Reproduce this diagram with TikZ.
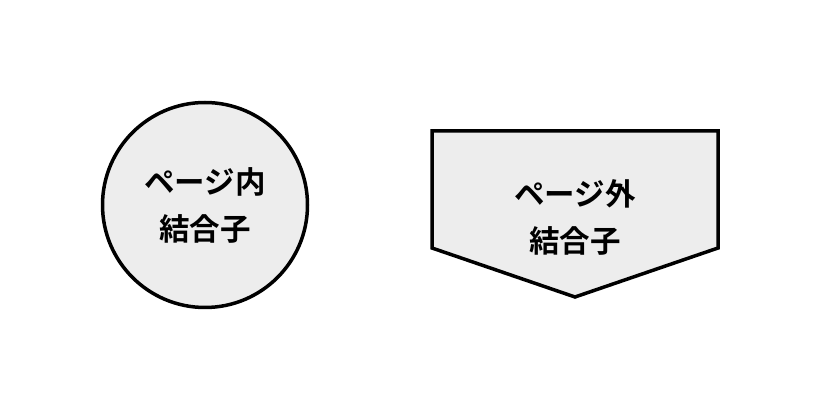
\documentclass[tikz,border=0pt]{standalone}
\usepackage{fontspec}
\setmainfont{Noto Sans CJK JP}[BoldFont={* Bold}]
\tikzset{
  connbox/.style={draw=black,line width=3.5pt,fill=black!7},
  conntext/.style={align=center,font=\fontsize{30.5}{47}\selectfont\bfseries}
}
\begin{document}
\begin{tikzpicture}[x=1pt,y=1pt]
\useasboundingbox (0,0) rectangle (820,410);
% On-page connector
\node(inpage)[circle,connbox,minimum size=205pt,inner sep=0pt] at (205,205) {};
\node(inpagetext)[conntext] at (inpage.center) {ページ内\\結合子};
% Off-page connector
\coordinate (o1) at (432,279);
\coordinate (o2) at (718,279);
\coordinate (o3) at (718,162);
\coordinate (o4) at (575,113);
\coordinate (o5) at (432,162);
\path[connbox] (o1) -- (o2) -- (o3) -- (o4) -- (o5) -- cycle;
\node(offpagetext)[conntext] at (575,192.5) {ページ外\\結合子};
\end{tikzpicture}
\end{document}
